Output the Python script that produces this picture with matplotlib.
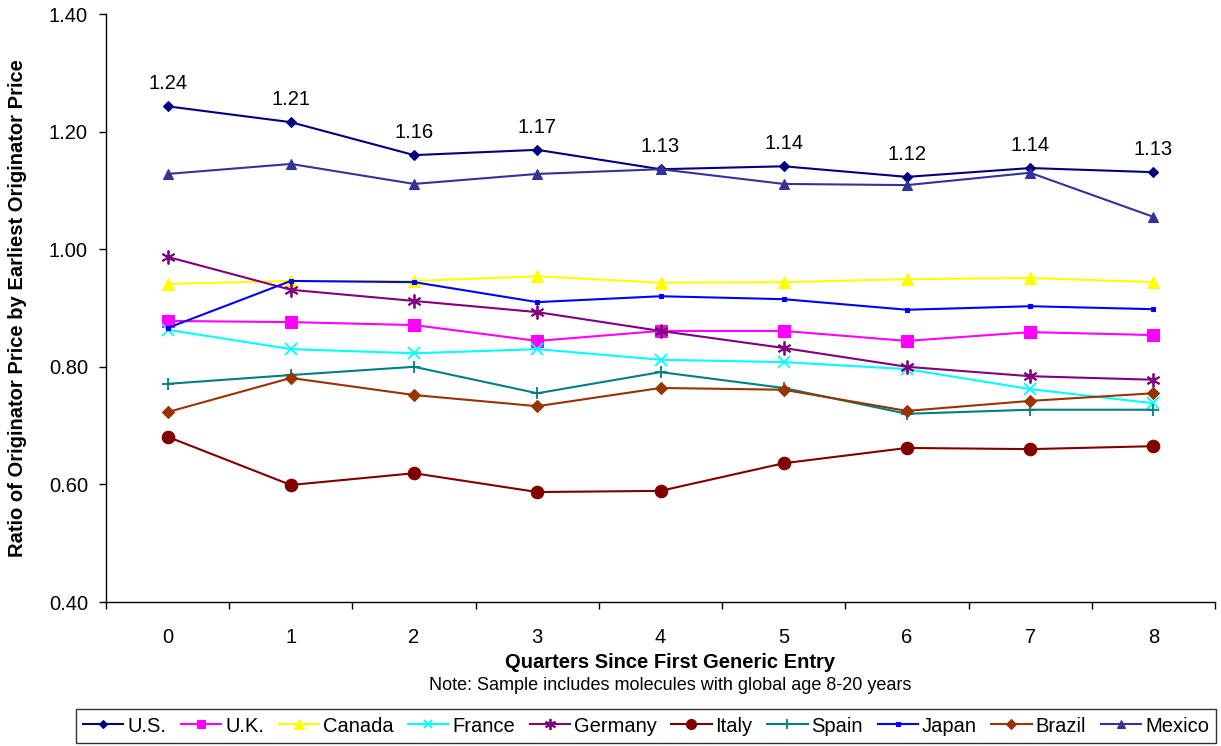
import numpy as np
import matplotlib.pyplot as plt
from matplotlib import rc

rc('font', **{'family': 'sans-serif', 'sans-serif': ['Liberation Sans', 'DejaVu Sans'], 'size': 14.5})

#The data
quarters = [0, 1, 2, 3, 4, 5, 6, 7, 8]
us      = [1.243, 1.216, 1.160, 1.169, 1.136, 1.141, 1.123, 1.138, 1.131]
uk      = [0.878, 0.876, 0.871, 0.844, 0.861, 0.861, 0.844, 0.859, 0.854]
canada  = [0.941, 0.946, 0.946, 0.954, 0.943, 0.944, 0.949, 0.951, 0.944]
france  = [0.863, 0.830, 0.823, 0.830, 0.812, 0.808, 0.796, 0.762, 0.738]
germany = [0.987, 0.931, 0.912, 0.893, 0.861, 0.832, 0.800, 0.784, 0.778]
italy   = [0.681, 0.599, 0.619, 0.587, 0.589, 0.636, 0.662, 0.660, 0.665]
spain   = [0.771, 0.786, 0.800, 0.755, 0.791, 0.764, 0.720, 0.727, 0.727]
japan   = [0.866, 0.946, 0.944, 0.910, 0.920, 0.915, 0.897, 0.903, 0.898]
brazil  = [0.723, 0.781, 0.752, 0.733, 0.764, 0.761, 0.725, 0.742, 0.755]
mexico  = [1.128, 1.145, 1.111, 1.128, 1.136, 1.111, 1.109, 1.130, 1.055]
us_labels = ['1.24', '1.21', '1.16', '1.17', '1.13', '1.14', '1.12', '1.14', '1.13']

#Series: name, values, colour, marker, marker size
series = [
    ('U.S.', us, '#000080', 'D', 5),
    ('U.K.', uk, '#FF00FF', 's', 8),
    ('Canada', canada, '#FFFF00', '^', 9),
    ('France', france, '#00FFFF', 'x', 8),
    ('Germany', germany, '#800080', (6, 2, 0), 10),
    ('Italy', italy, '#800000', 'o', 9),
    ('Spain', spain, '#008080', '+', 9),
    ('Japan', japan, '#0000FF', 's', 3.5),
    ('Brazil', brazil, '#993300', 'D', 6),
    ('Mexico', mexico, '#333399', '^', 7),
]

fig = plt.figure(figsize=(12.21, 7.46), dpi=100)
ax = fig.add_axes([106/1221, 1 - 602/746, (1215 - 106)/1221, (602 - 14)/746])

for name, vals, col, mk, ms in series:
    ax.plot(quarters, vals, color=col, marker=mk, markersize=ms, linewidth=1.5,
            markeredgewidth=1.3 if mk in ('x', '+') or isinstance(mk, tuple) else 0.8,
            markeredgecolor=col, markerfacecolor=col, label=name)

for q, v, t in zip(quarters, us, us_labels):
    ax.annotate(t, (q, v), xytext=(0, 9.5), textcoords='offset points',
                ha='center', va='bottom', fontsize=14.5)

ax.set_xlim(-0.5, 8.5)
ax.set_ylim(0.40, 1.40)
ax.set_yticks(np.arange(0.40, 1.41, 0.20))
ax.set_yticklabels(['%.2f' % v for v in np.arange(0.40, 1.41, 0.20)])
ax.set_xticks(quarters)
ax.set_xticklabels([str(q) for q in quarters])
ax.set_xticks(np.arange(-0.5, 8.6, 1.0), minor=True)
ax.tick_params(axis='x', which='major', length=0, pad=19, labelsize=14.5)
ax.tick_params(axis='x', which='minor', length=5, direction='out', width=1)
ax.tick_params(axis='y', length=5, direction='out', width=1, labelsize=14.5, pad=8)

ax.spines['top'].set_visible(False)
ax.spines['right'].set_visible(False)
ax.spines['left'].set_linewidth(1)
ax.spines['bottom'].set_linewidth(1)

fig.text(670/1221, 1 - 662/746, 'Quarters Since First Generic Entry', ha='center', va='center',
         fontsize=14.5, fontweight='bold')
fig.text(670/1221, 1 - 686/746, 'Note: Sample includes molecules with global age 8-20 years',
         ha='center', va='center', fontsize=13)
fig.text(18/1221, 1 - 308/746, 'Ratio of Originator Price by Earliest Originator Price',
         ha='center', va='center', rotation=90, fontsize=14.5, fontweight='bold')

leg = fig.legend(loc='center', bbox_to_anchor=(646/1221, 1 - 726/746), ncol=10,
                 frameon=True, fancybox=False, edgecolor='black', fontsize=14.5,
                 handlelength=2.0, handletextpad=0.2, columnspacing=0.72,
                 borderpad=0.35, markerscale=0.8)
leg.get_frame().set_linewidth(1)

fig.savefig('out.png', dpi=100)
